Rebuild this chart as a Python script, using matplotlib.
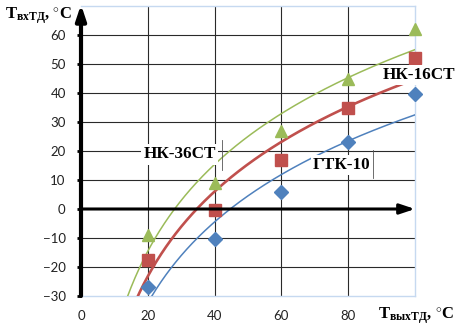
import numpy as np
import matplotlib
matplotlib.use("Agg")
import matplotlib.pyplot as plt

plt.rcParams['mathtext.fontset'] = 'custom'
plt.rcParams['mathtext.rm'] = 'Liberation Serif:bold'
plt.rcParams['mathtext.bf'] = 'Liberation Serif:bold'
plt.rcParams['mathtext.it'] = 'Liberation Serif:bold'

x_vals = [20, 40, 60, 80, 100]
nk36 = [-9, 9, 27, 45, 62]
nk16 = [-17.5, -0.5, 17, 35, 52]
gtk10 = [-27, -10.5, 6, 23, 39.5]

x_ticks = [0, 20, 40, 60, 80]
y_ticks = [-30, -20, -10, 0, 10, 20, 30, 40, 50, 60]

c_green = '#9bbb59'
c_red = '#c0504d'
c_blue = '#4f81bd'

fig = plt.figure(figsize=(4.66, 3.33), dpi=100)
ax = fig.add_axes([81/466, 1-296/333, (415-81)/466, (296-6)/333])
ax.set_xlim(0, 100)
ax.set_ylim(-30, 70)

# grid
for gx in [20, 40, 60, 80]:
    ax.axvline(gx, color='#2a2a2a', lw=0.8, zorder=1)
for gy in [-20, -10, 10, 20, 30, 40, 50, 60]:
    ax.axhline(gy, color='#2a2a2a', lw=0.8, zorder=1)

for s in ['top', 'right', 'bottom']:
    ax.spines[s].set_color('#c6d9f0')
    ax.spines[s].set_linewidth(1)
ax.spines['left'].set_visible(False)

# log trend lines (Excel style), fitted from the data
xs = np.linspace(5, 100, 400)
series = [(nk36, c_green, '^', 9, 1.1), (nk16, c_red, 's', 9, 1.9), (gtk10, c_blue, 'D', 7, 1.1)]
for ys, col, mk, ms, lw in series:
    a, b = np.polyfit(np.log(x_vals), ys, 1)
    ax.plot(xs, a*np.log(xs)+b, color=col, lw=lw, zorder=3)
for ys, col, mk, ms, lw in series:
    ax.plot(x_vals, ys, ls='none', marker=mk, ms=ms, color=col, mec=col, zorder=5, clip_on=False)

# axes arrows
ax.annotate('', xy=(0, 70.5), xytext=(0, -30), annotation_clip=False,
            arrowprops=dict(arrowstyle='-|>,head_length=0.9,head_width=0.3', lw=3, color='black',
                            shrinkA=0, shrinkB=0), zorder=6)
ax.annotate('', xy=(100, 0), xytext=(0, 0), annotation_clip=False,
            arrowprops=dict(arrowstyle='-|>,head_length=0.9,head_width=0.3', lw=2.2, color='black',
                            shrinkA=0, shrinkB=0), zorder=6)

ax.set_xticks(x_ticks)
ax.set_yticks(y_ticks)
ax.tick_params(axis='x', length=0, pad=10, labelsize=9.5, labelcolor='#222222')
ax.tick_params(axis='y', length=3, width=2, color='black', pad=8, labelsize=9.5, labelcolor='#222222')
for lab in ax.get_xticklabels() + ax.get_yticklabels():
    lab.set_family('Lato')

# labels
bb = dict(facecolor='white', edgecolor='none', pad=1.5)
fs = 12.3
ax.text(29.5, 18.8, 'НК-36СТ', family='Liberation Serif', weight='bold', fontsize=fs,
        ha='center', va='center', bbox=bb, zorder=7)
ax.text(78, 15.2, 'ГТК-10', family='Liberation Serif', weight='bold', fontsize=fs,
        ha='center', va='center', bbox=bb, zorder=7)
ax.text(101.2, 46.2, 'НК-16СТ', family='Liberation Serif', weight='bold', fontsize=fs,
        ha='center', va='center', bbox=bb, zorder=7, clip_on=False)
ax.plot([42.3, 42.3], [13.5, 23.8], color='#555555', lw=0.6, zorder=8)
ax.plot([87.5, 87.5], [10.8, 20.2], color='#555555', lw=0.6, zorder=8)

fig.text(5/466, 1-16/333, r'$\mathrm{T_{вхТД}}$, $^{\circ}$C', family='Liberation Serif', weight='bold',
         fontsize=12, ha='left', va='center')
fig.text(378/466, 1-316/333, r'$\mathrm{T_{выхТД}}$, $^{\circ}$C', family='Liberation Serif', weight='bold',
         fontsize=12, ha='left', va='center')

fig.savefig('out.png', dpi=100)
